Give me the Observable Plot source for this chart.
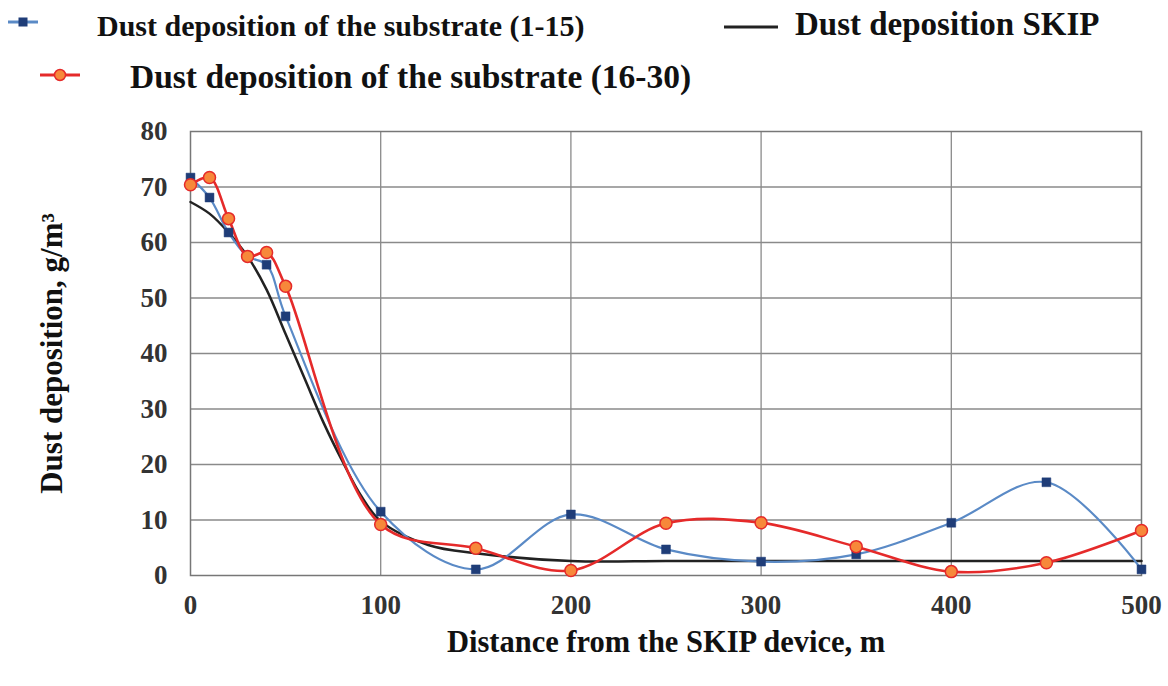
<!DOCTYPE html>
<html>
<head>
<meta charset="utf-8">
<script src="https://cdn.jsdelivr.net/npm/d3@7"></script>
<script src="https://cdn.jsdelivr.net/npm/@observablehq/plot@0.6"></script>
<style>
  html, body { margin: 0; padding: 0; background: #fff; }
  #wrap { width: 1168px; height: 686px; position: relative; overflow: hidden; }
  #legend { position: relative; width: 1168px; height: 110px; font-family: "Liberation Serif", "Times New Roman", serif; font-weight: bold; color: #111; }
  .lg { position: absolute; white-space: nowrap; transform-origin: left center; }
  .sw { position: absolute; }
</style>
</head>
<body>
<div id="wrap">
  <div id="legend"></div>
  <div id="chart"></div>
</div>
<script>
// ---- data ----
const distance = [0, 10, 20, 30, 40, 50, 100, 150, 200, 250, 300, 350, 400, 450, 500];
const substrate1to15 = [71.7, 68.1, 61.8, 57.5, 56.0, 46.7, 11.5, 1.1, 11.0, 4.7, 2.5, 3.8, 9.5, 16.8, 1.1];
const substrate16to30 = [70.4, 71.7, 64.3, 57.5, 58.2, 52.1, 9.2, 4.9, 0.9, 9.4, 9.5, 5.2, 0.7, 2.3, 8.1];
const skipDistance = [0, 10, 20, 30, 40, 50, 60, 70, 80, 90, 100, 125, 150, 200, 250, 300, 350, 400, 450, 500];
const skipDeposition = [67.3, 65.2, 61.8, 57.5, 51.5, 43.5, 35.5, 27.5, 20.5, 14.2, 9.8, 5.5, 4.0, 2.6, 2.6, 2.6, 2.6, 2.6, 2.6, 2.6];
const xTicks = [0, 100, 200, 300, 400, 500];
const yTicks = [0, 10, 20, 30, 40, 50, 60, 70, 80];
const seriesNames = ["Dust deposition of the substrate (1-15)", "Dust deposition of the substrate (16-30)", "Dust deposition SKIP"];
const xTitle = "Distance from the SKIP device, m";
const yTitle = "Dust deposition, g/m\u00B3";

const blueLine = "#5a8ac6", blueMark = "#1f3d78";
const redLine = "#e52a2a", redMark = "#f7883a";
const skipLine = "#222222";

const s1 = distance.map((d, i) => ({x: d, y: substrate1to15[i]}));
const s2 = distance.map((d, i) => ({x: d, y: substrate16to30[i]}));
const sk = skipDistance.map((d, i) => ({x: d, y: skipDeposition[i]}));

const serif = "'Liberation Serif', 'Times New Roman', serif";

const chart = Plot.plot({
  width: 1168,
  height: 576,
  marginTop: 21,
  marginBottom: 111,
  marginLeft: 190,
  marginRight: 27,
  style: {fontFamily: serif, fontWeight: "bold", background: "#fff"},
  x: {domain: [0, 500]},
  y: {domain: [0, 80]},
  marks: [
    Plot.gridX(xTicks.slice(1, -1), {stroke: "#8a8a8a", strokeOpacity: 1, strokeWidth: 1.3}),
    Plot.gridY(yTicks.slice(1, -1), {stroke: "#8a8a8a", strokeOpacity: 1, strokeWidth: 1.3}),
    Plot.frame({stroke: "#777", strokeWidth: 1.5}),
    Plot.axisX(xTicks, {tickSize: 0, tickPadding: 19, fontSize: 27, fill: "#333", label: null}),
    Plot.axisY(yTicks, {tickSize: 0, tickPadding: 23, fontSize: 27, fill: "#333", label: null}),
    Plot.text([xTitle], {frameAnchor: "bottom", lineAnchor: "middle", textAnchor: "middle", dy: 67, fontSize: 30.5, fill: "#111"}),
    Plot.text([yTitle], {frameAnchor: "left", lineAnchor: "middle", textAnchor: "middle", dx: -138, rotate: -90, fontSize: 31, fill: "#111"}),
    Plot.line(sk, {x: "x", y: "y", curve: "catmull-rom", stroke: skipLine, strokeWidth: 2.5}),
    Plot.line(s1, {x: "x", y: "y", curve: "catmull-rom", stroke: blueLine, strokeWidth: 2.2}),
    Plot.line(s2, {x: "x", y: "y", curve: "catmull-rom", stroke: redLine, strokeWidth: 2.6}),
    Plot.dot(s1, {x: "x", y: "y", symbol: "square", r: 5, fill: blueMark, stroke: blueMark, strokeWidth: 0.5}),
    Plot.dot(s2, {x: "x", y: "y", r: 6, fill: redMark, stroke: redLine, strokeWidth: 1.5})
  ]
});
document.getElementById("chart").appendChild(chart);

// ---- legend (HTML above the SVG) ----
const legend = document.getElementById("legend");
function swatch(left, top, w, color, marker) {
  const ns = "http://www.w3.org/2000/svg";
  const svg = document.createElementNS(ns, "svg");
  svg.setAttribute("width", w + 10);
  svg.setAttribute("height", 16);
  svg.setAttribute("class", "sw");
  svg.style.left = (left - 5) + "px";
  svg.style.top = (top - 8) + "px";
  const ln = document.createElementNS(ns, "line");
  ln.setAttribute("x1", 5); ln.setAttribute("x2", w + 5);
  ln.setAttribute("y1", 8); ln.setAttribute("y2", 8);
  ln.setAttribute("stroke", color); ln.setAttribute("stroke-width", 3);
  svg.appendChild(ln);
  if (marker === "square") {
    const r = document.createElementNS(ns, "rect");
    r.setAttribute("x", w / 2 + 5 - 4.5); r.setAttribute("y", 3.5);
    r.setAttribute("width", 9); r.setAttribute("height", 9);
    r.setAttribute("fill", blueMark);
    svg.appendChild(r);
  } else if (marker === "circle") {
    const c = document.createElementNS(ns, "circle");
    c.setAttribute("cx", w / 2 + 5); c.setAttribute("cy", 8); c.setAttribute("r", 5.5);
    c.setAttribute("fill", redMark); c.setAttribute("stroke", redLine); c.setAttribute("stroke-width", 1.5);
    svg.appendChild(c);
  }
  legend.appendChild(svg);
}
function label(text, left, centerY, size, sx) {
  const d = document.createElement("div");
  d.className = "lg";
  d.textContent = text;
  d.style.left = left + "px";
  d.style.fontSize = size + "px";
  d.style.lineHeight = size + "px";
  d.style.top = (centerY - size / 2) + "px";
  d.style.transform = `scaleX(${sx})`;
  legend.appendChild(d);
}
swatch(8, 22, 30, blueLine, "square");
label(seriesNames[0], 97, 26, 30, 1.0);
swatch(724, 27, 54, skipLine, "none");
label(seriesNames[2], 795, 24, 33, 1.0);
swatch(40, 75, 40, redLine, "circle");
label(seriesNames[1], 130, 77, 33.5, 1.0);
</script>
</body>
</html>
